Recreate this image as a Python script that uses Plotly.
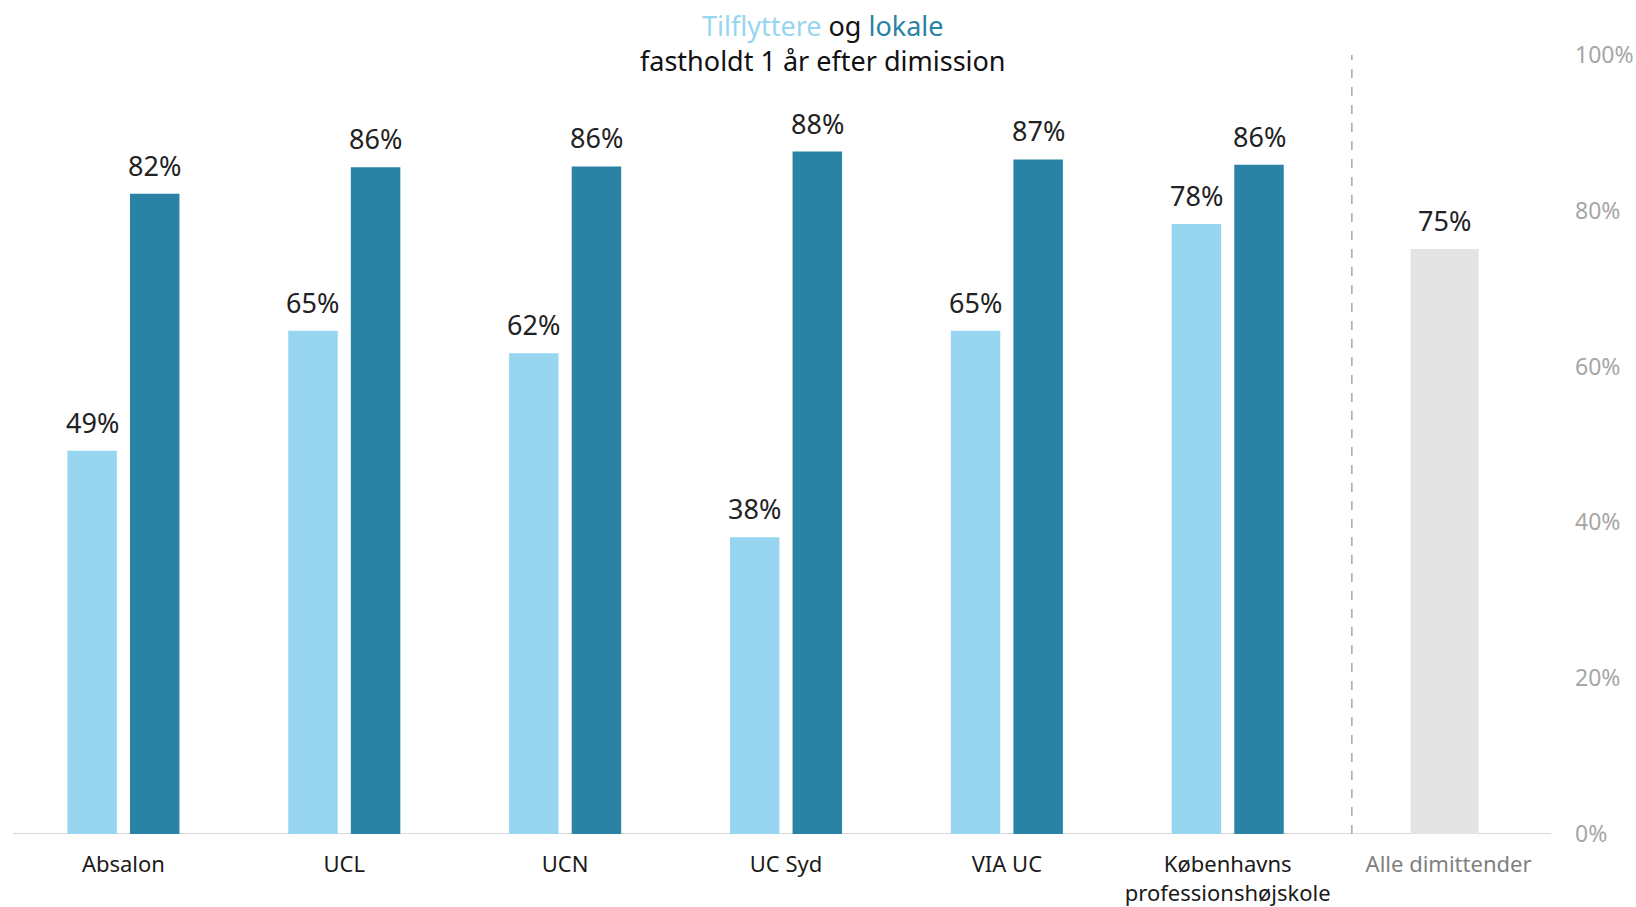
import plotly.graph_objects as go

categories = ["Absalon", "UCL", "UCN", "UC Syd", "VIA UC",
              "Københavns<br>professionshøjskole", "Alle dimittender"]
tilflyttere = [0.492, 0.646, 0.617, 0.381, 0.646, 0.783]
lokale = [0.822, 0.856, 0.857, 0.876, 0.866, 0.859]
alle = [0.751]
y_ticks = [0, 0.2, 0.4, 0.6, 0.8, 1.0]

LIGHT = "#97d5f0"
DARK = "#2a83a5"
GRAY = "#e4e4e4"
FONT = "Noto Sans"

bar_w = 0.224
light_off = -0.2537
dark_off = 0.0297
gray_w = 0.308
gray_off = -0.172

fig = go.Figure()
fig.add_trace(go.Bar(x=categories[:6], y=tilflyttere, width=bar_w, offset=light_off,
                     marker=dict(color=LIGHT, line=dict(width=0)), name="Tilflyttere"))
fig.add_trace(go.Bar(x=categories[:6], y=lokale, width=bar_w, offset=dark_off,
                     marker=dict(color=DARK, line=dict(width=0)), name="Lokale"))
fig.add_trace(go.Bar(x=categories[6:], y=alle, width=gray_w, offset=gray_off,
                     marker=dict(color=GRAY, line=dict(width=0)), name="Alle"))

annotations = []
def add_labels(vals, start_idx, off, w):
    for i, v in enumerate(vals):
        annotations.append(dict(
            x=start_idx + i + off + w / 2, y=v, xref="x", yref="y",
            text=f"{round(v * 100):d}%", showarrow=False,
            yanchor="bottom", yshift=8,
            font=dict(family=FONT, size=27, color="#222222")))

add_labels(tilflyttere, 0, light_off, bar_w)
add_labels(lokale, 0, dark_off, bar_w)
add_labels(alle, 6, gray_off, gray_w)

# title as annotation (paper coords; plot area spans 55..834 px)
annotations.append(dict(
    text=(f"<span style='color:{LIGHT}'>Tilflyttere</span> og "
          f"<span style='color:{DARK}'>lokale</span><br>fastholdt 1 år efter dimission"),
    xref="paper", yref="paper", x=(823 - 13) / 1546, y=1 + (55 - 5) / 779,
    xanchor="center", yanchor="top", showarrow=False, align="center",
    font=dict(family=FONT, size=27, color="#111111")))

ticktext = [c for c in categories[:6]] + [f"<span style='color:#808080'>{categories[6]}</span>"]

fig.update_layout(
    width=1636, height=907,
    margin=dict(l=13, r=77, t=55, b=73, autoexpand=False),
    paper_bgcolor="white", plot_bgcolor="white",
    barmode="overlay",
    showlegend=False,
    xaxis=dict(type="category", range=[-0.5, 6.5], showgrid=False, showline=False,
               zeroline=False, ticks="", tickvals=categories, ticktext=ticktext,
               ticklabelstandoff=15, automargin=False,
               tickfont=dict(family=FONT, size=22, color="#1a1a1a")),
    yaxis=dict(side="right", range=[0, 1], tickvals=y_ticks, tickformat=".0%",
               showgrid=False, zeroline=False, showline=False, ticks="",
               ticklabelstandoff=15, automargin=False,
               tickfont=dict(family=FONT, size=23, color="#a6a6a6")),
    annotations=annotations,
    shapes=[
        dict(type="line", xref="paper", yref="y", x0=0, x1=0.995, y0=0, y1=0,
             line=dict(color="#d9d9d9", width=2), layer="below"),
        dict(type="line", xref="x", yref="y", x0=5.562, x1=5.562, y0=0, y1=1.024,
             line=dict(color="#a8a8a8", width=1.5, dash="dash")),
    ],
)

fig.write_html("out.html", config={"displayModeBar": False},
               post_script="document.body.style.margin='0';document.body.style.overflow='hidden';")
